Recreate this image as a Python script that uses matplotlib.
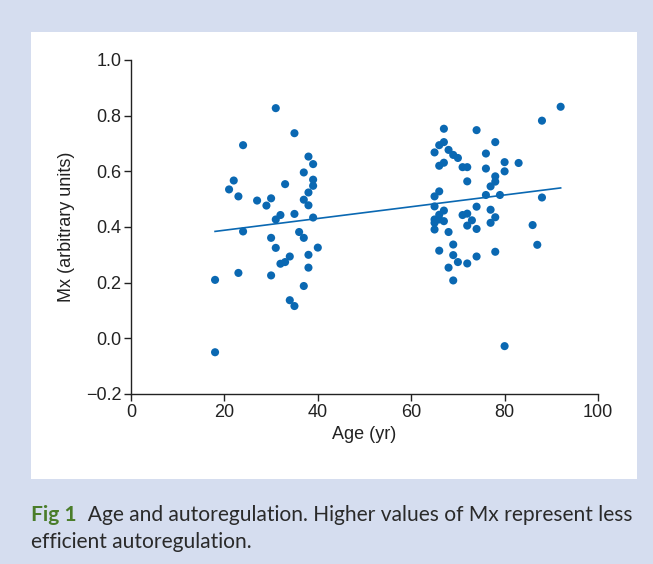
import numpy as np
import matplotlib
matplotlib.use("Agg")
import matplotlib.pyplot as plt
from matplotlib.patches import Rectangle

# ---- data ----
young_age = [31, 35, 24, 38, 39, 37, 22, 39, 39, 21, 33, 38, 23, 27, 30, 29, 37, 38,
             32, 31, 35, 39, 24, 36, 37, 30, 31, 40, 38, 34, 33, 32, 38, 23, 30, 18,
             37, 34, 35, 18]
young_mx = [0.827, 0.737, 0.694, 0.653, 0.626, 0.596, 0.567, 0.570, 0.548, 0.535,
            0.554, 0.524, 0.510, 0.495, 0.503, 0.477, 0.498, 0.478, 0.443, 0.427,
            0.447, 0.434, 0.384, 0.382, 0.361, 0.361, 0.325, 0.326, 0.300, 0.294,
            0.274, 0.268, 0.254, 0.235, 0.226, 0.210, 0.188, 0.137, 0.116, -0.050]

old_age = [88, 92, 67, 74, 78, 67, 66, 65, 68, 69, 70, 76, 67, 66, 71, 72, 80, 83,
           76, 80, 78, 78, 72, 77, 66, 65, 76, 79, 88, 65, 74, 67, 77, 66, 71, 72,
           78, 65, 66, 67, 65, 73, 77, 72, 74, 65, 68, 86, 69, 87, 66, 78, 69, 74,
           70, 72, 68, 69, 80]
old_mx = [0.782, 0.832, 0.753, 0.748, 0.705, 0.705, 0.694, 0.668, 0.677, 0.659,
          0.648, 0.664, 0.631, 0.620, 0.615, 0.615, 0.633, 0.630, 0.610, 0.600,
          0.582, 0.563, 0.564, 0.546, 0.528, 0.510, 0.515, 0.515, 0.506, 0.474,
          0.473, 0.459, 0.462, 0.444, 0.443, 0.448, 0.435, 0.427, 0.427, 0.421,
          0.415, 0.424, 0.415, 0.405, 0.393, 0.391, 0.382, 0.407, 0.337, 0.336,
          0.315, 0.311, 0.299, 0.294, 0.274, 0.269, 0.254, 0.208, -0.028]

x_ticks = [0, 20, 40, 60, 80, 100]
y_ticks = [-0.2, 0.0, 0.2, 0.4, 0.6, 0.8, 1.0]
x_label = "Age (yr)"
y_label = "Mx (arbitrary units)"
caption_bold = "Fig 1"
caption_rest = "  Age and autoregulation. Higher values of Mx represent less"
caption_line2 = "efficient autoregulation."

age = np.array(young_age + old_age, dtype=float)
mx = np.array(young_mx + old_mx, dtype=float)

BG = "#d5ddef"
BLUE = "#0a68b2"
W, H = 653, 564

fig = plt.figure(figsize=(W / 100, H / 100), dpi=100)
fig.patch.set_facecolor(BG)

# white panel
fig.add_artist(Rectangle((31 / W, 1 - 479 / H), (637 - 31) / W, (479 - 32) / H,
                         transform=fig.transFigure, facecolor="white", edgecolor="none",
                         zorder=0))

ax = fig.add_axes([131 / W, 1 - 394 / H, (598 - 131) / W, (394 - 60) / H])
ax.set_facecolor("none")
ax.scatter(age, mx, s=34, color=BLUE, edgecolors="none", zorder=3, clip_on=False)

slope, intercept = np.polyfit(age, mx, 1)
xl = np.array([age.min(), age.max()])
ax.plot(xl, slope * xl + intercept, color=BLUE, lw=1.2, zorder=2)

ax.set_xlim(0, 100)
ax.set_ylim(-0.2, 1.0)
ax.set_xticks(x_ticks)
ax.set_yticks(y_ticks)
ax.set_xticklabels([str(t) for t in x_ticks])
ax.set_yticklabels([f"{t:.1f}".replace("-", "\u2212") for t in y_ticks])
for s in ["top", "right"]:
    ax.spines[s].set_visible(False)
for s in ["left", "bottom"]:
    ax.spines[s].set_linewidth(1.0)
    ax.spines[s].set_color("#222222")
ax.tick_params(direction="out", length=5, width=1.0, color="#222222",
               labelsize=13, labelcolor="#222222", pad=2)
for lab in ax.get_xticklabels() + ax.get_yticklabels():
    lab.set_fontfamily("Liberation Sans")
ax.set_xlabel(x_label, fontsize=13, family="Liberation Sans", color="#222222", labelpad=4)
ax.set_ylabel(y_label, fontsize=13, family="Liberation Sans", color="#222222", labelpad=8)

# caption: size chosen so that line 1 spans the panel width
CAP_FONT = "Lato"
fs = 15.0
y1 = 1 - 521 / H
y2 = 1 - 547.5 / H
t1 = fig.text(31 / W, y1, caption_bold, fontsize=fs, fontweight="bold",
              color="#4a7d2a", family=CAP_FONT, va="baseline")
t2 = fig.text(0, y1, caption_rest, fontsize=fs, color="#2a2a2a",
              family=CAP_FONT, va="baseline")
t3 = fig.text(31 / W, y2, caption_line2, fontsize=fs, color="#2a2a2a",
              family=CAP_FONT, va="baseline")
r = fig.canvas.get_renderer()
w = t1.get_window_extent(r).width + t2.get_window_extent(r).width
fs = fs * (636 - 31) / w
for t in (t1, t2, t3):
    t.set_fontsize(fs)
fig.canvas.draw()
bb = t1.get_window_extent(r)
t2.set_x(bb.x1 / W)

fig.savefig("out.png", dpi=100, facecolor=BG)
print(fs)
